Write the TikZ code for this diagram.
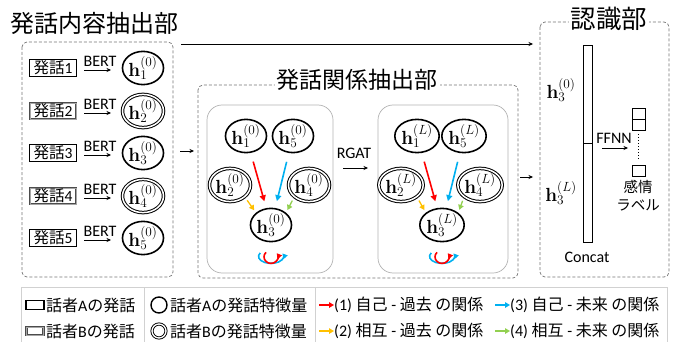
\RequirePackage{fix-cm}
\documentclass[tikz,border=0pt]{standalone}
\usepackage[no-math]{fontspec}
\setmainfont{Carlito}
\newfontfamily\jp{Noto Sans CJK JP}
\newcommand\J[1]{{\jp #1}}
\usetikzlibrary{arrows.meta,shapes.geometric}
\definecolor{cred}{RGB}{255,0,0}
\definecolor{cblue}{RGB}{0,176,240}
\definecolor{corange}{RGB}{255,192,0}
\definecolor{cgreen}{RGB}{146,208,80}
\begin{document}
\begin{tikzpicture}[x=1pt,y=-1pt,
  sA/.style={ellipse, draw, line width=1.6pt, minimum width=38pt, minimum height=30pt, inner sep=0pt, font=\fontsize{19}{19}\selectfont},
  sB/.style={ellipse, draw, line width=1pt, double, double distance=1.5pt, minimum width=37pt, minimum height=31pt, inner sep=0pt, font=\fontsize{19}{19}\selectfont},
  uA/.style={draw, line width=1.3pt, minimum width=47pt, minimum height=17pt, inner sep=0pt, font=\fontsize{15.5}{15.5}\selectfont},
  uB/.style={draw=black!70, line width=0.8pt, double=black!35, double distance=0.9pt, minimum width=46pt, minimum height=16pt, inner sep=0pt, font=\fontsize{15.5}{15.5}\selectfont},
  lbl/.style={inner sep=0pt, font=\fontsize{16}{16}\selectfont},
  dbox/.style={draw=black!55, line width=0.7pt, dash pattern=on 3pt off 2pt, rounded corners=5pt},
  ibox/.style={draw=black!30, line width=0.7pt, rounded corners=15pt},
  ttl/.style={fill=white, inner sep=2pt, font=\fontsize{23}{23}\selectfont\jp},
  conn/.style={line width=0.6pt, -{Stealth[length=4.5pt,width=4pt]}},
  ctip/.style={-{Triangle[length=6pt,width=6pt]}},
  stip/.style={-{Triangle[length=5pt,width=5.5pt]}},
  leg/.style={inner sep=0pt, anchor=west, font=\fontsize{16}{16}\selectfont},
  larr/.style={line width=1.3pt, -{Triangle[length=5pt,width=5.5pt]}}
]
\useasboundingbox (0,0) rectangle (676,342);

% ---------- left section ----------
\draw[dbox] (22,42) rectangle (173,277);
\node[ttl, fill=none, anchor=west, font=\fontsize{24}{24}\selectfont\jp] (t1) at (8,23) {発話内容抽出部};

\foreach \i/\y/\s in {1/68/A,2/111/B,3/153/A,4/196/B,5/238/A}{
  \node[u\s] (u\i) at (53,\y) {\J{発話}\i};
  \node[s\s] (e\i) at (143,\y) {$\mathbf{h}_{\i}^{(0)}$};
  \node[lbl] (b\i) at (100,\y-7) {BERT};
  \coordinate (bs\i) at (84,\y+2);
  \coordinate (be\i) at (111,\y+2);
  \draw[conn] (bs\i) -- (be\i);
}

% ---------- middle section ----------
\draw[dbox] (198,85) rectangle (518,278);
\node[ttl] (t2) at (357,80) {発話関係抽出部};
\draw[ibox] (207,105) rectangle (333,273);
\draw[ibox] (378,105) rectangle (508,273);

\foreach \p/\dx/\sup in {a/0/0,c/171/L}{
  \node[sA] (\p1) at (246+\dx,136) {$\mathbf{h}_1^{(\sup)}$};
  \node[sA] (\p5) at (293+\dx,136) {$\mathbf{h}_5^{(\sup)}$};
  \node[sB] (\p2) at (230+\dx,185) {$\mathbf{h}_2^{(\sup)}$};
  \node[sB] (\p4) at (309+\dx,185) {$\mathbf{h}_4^{(\sup)}$};
  \node[sA] (\p3) at (271+\dx,225) {$\mathbf{h}_3^{(\sup)}$};
  \draw[ctip, line width=1.6pt, cred, shorten <=9pt, shorten >=7pt] (\p1) -- (\p3);
  \draw[ctip, line width=1.6pt, cblue, shorten <=9pt, shorten >=7pt] (\p5) -- (\p3);
  \draw[stip, line width=1.3pt, corange, shorten <=4pt, shorten >=3pt] (\p2.south east) -- (\p3.north west);
  \draw[stip, line width=1.3pt, cgreen, shorten <=4pt, shorten >=3pt] (\p4.south west) -- (\p3.north east);
  \draw[cblue, line width=1.6pt, stip] (\p3.south) ++(-10.8,10.5) arc[start angle=150, end angle=385, x radius=12.5pt, y radius=7pt];
  \draw[cred, line width=1.6pt, stip] (\p3.south) ++(-4.95,9.9) arc[start angle=135, end angle=395, x radius=7pt, y radius=6.5pt];
}
\node[lbl] (rg) at (354,153) {RGAT};
\coordinate (rgs) at (343,168);
\coordinate (rge) at (368,168);
\draw[conn] (rgs) -- (rge);

% ---------- right section ----------
\draw[dbox] (540,22) rectangle (669,277);
\node[ttl, font=\fontsize{25.5}{25.5}\selectfont\jp] (t3) at (609,19) {認識部};
\node[draw, line width=0.8pt, minimum width=9pt, minimum height=98pt, inner sep=0pt] (c0) at (587.5,94) {};
\node[draw, line width=0.8pt, minimum width=9pt, minimum height=99pt, inner sep=0pt] (cL) at (587.5,192.5) {};
\node[inner sep=0pt, font=\fontsize{19}{19}\selectfont] (h0) at (561,90) {$\mathbf{h}_3^{(0)}$};
\node[inner sep=0pt, font=\fontsize{19}{19}\selectfont] (hL) at (561,193) {$\mathbf{h}_3^{(L)}$};
\node[lbl] (cc) at (587,257) {Concat};
\node[lbl] (ff) at (614,138) {FFNN};
\coordinate (ffs) at (602,148);
\coordinate (ffe) at (628,148);
\draw[conn] (ffs) -- (ffe);
\node[draw, line width=0.8pt, minimum width=13pt, minimum height=11pt, inner sep=0pt] (o1) at (638.5,113.5) {};
\node[draw, line width=0.8pt, minimum width=13pt, minimum height=11pt, inner sep=0pt] (o2) at (638.5,124.5) {};
\node[draw, line width=0.8pt, minimum width=13pt, minimum height=11pt, inner sep=0pt] (o3) at (638.5,171) {};
\draw[line width=1pt, dotted, shorten <=4pt, shorten >=4pt] (o2.south) -- (o3.north);
\node[lbl, font=\fontsize{14.5}{14.5}\selectfont\jp] (k1) at (638,187) {感情};
\node[lbl, font=\fontsize{14.5}{14.5}\selectfont\jp] (k2) at (638,205) {ラベル};

% ---------- connectors between sections ----------
\coordinate (top1) at (181,44);
\coordinate (top2) at (533,44);
\draw[conn] (top1) -- (top2);
\coordinate (m1) at (180,151);
\coordinate (m2) at (194,151);
\draw[conn] (m1) -- (m2);
\coordinate (r1) at (520,177);
\coordinate (r2) at (533,177);
\draw[conn] (r1) -- (r2);

% ---------- legend ----------
\draw[black!18, line width=0.6pt] (21,342) -- (21,287) -- (667,287) -- (667,342);
\draw[black!18, line width=0.6pt] (144,287) -- (144,342);
\draw[black!18, line width=0.6pt] (315,287) -- (315,342);

\node[draw, line width=1.2pt, minimum width=18pt, minimum height=9pt, inner sep=0pt] (lA) at (35,305) {};
\node[draw=black!70, line width=0.7pt, double=black!35, double distance=0.8pt, minimum width=17pt, minimum height=8pt, inner sep=0pt] (lB) at (35,331) {};
\node[leg] (tA) at (46,305) {\J{話者}A\J{の発話}};
\node[leg] (tB) at (46,331) {\J{話者}B\J{の発話}};

\node[circle, draw, line width=1.4pt, minimum size=16pt, inner sep=0pt] (cA) at (159,305) {};
\node[circle, draw, line width=0.9pt, double, double distance=1.3pt, minimum size=14pt, inner sep=0pt] (cB) at (159,331) {};
\node[leg] (fA) at (170,305) {\J{話者}A\J{の発話特徴量}};
\node[leg] (fB) at (170,331) {\J{話者}B\J{の発話特徴量}};

\node[leg] (r1t) at (334,305) {(1) \J{自己} - \J{過去} \J{の関係}};
\node[leg] (r2t) at (334,331) {(2) \J{相互} - \J{過去} \J{の関係}};
\node[leg] (r3t) at (510,305) {(3) \J{自己} - \J{未来} \J{の関係}};
\node[leg] (r4t) at (510,331) {(4) \J{相互} - \J{未来} \J{の関係}};
\draw[larr, cred] (r1t.west) ++(-15,0) -- (r1t.west);
\draw[larr, corange] (r2t.west) ++(-15,0) -- (r2t.west);
\draw[larr, cblue] (r3t.west) ++(-15,0) -- (r3t.west);
\draw[larr, cgreen] (r4t.west) ++(-15,0) -- (r4t.west);
\end{tikzpicture}
\end{document}
